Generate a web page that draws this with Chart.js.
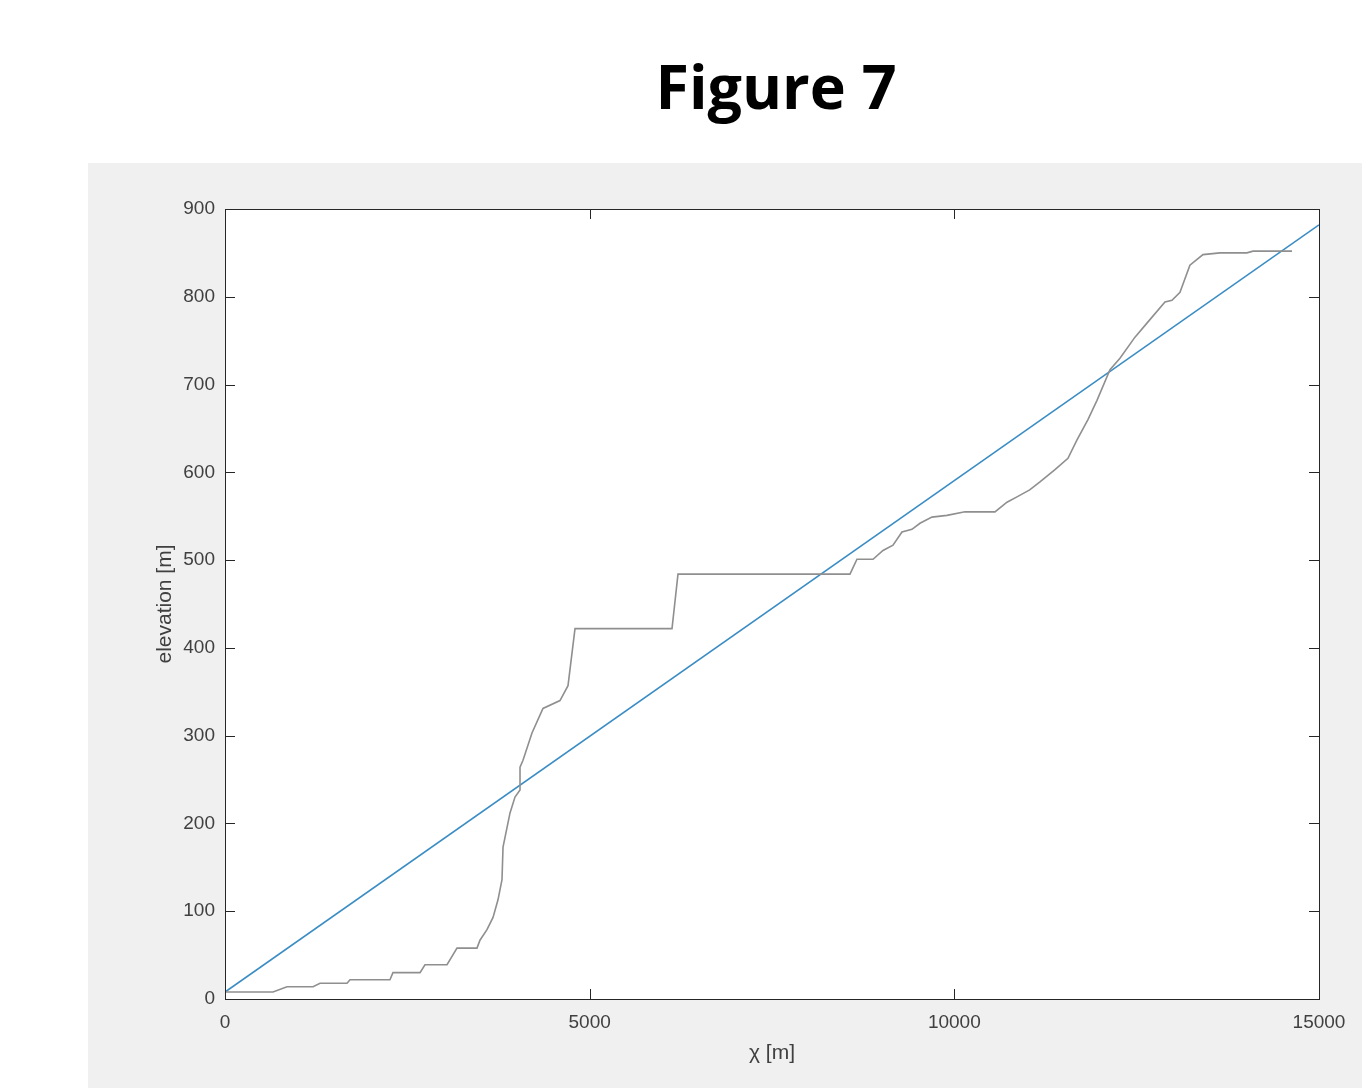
<!DOCTYPE html>
<html>
<head>
<meta charset="utf-8">
<title>Figure 7</title>
<script src="https://cdn.jsdelivr.net/npm/chart.js@4.4.0/dist/chart.umd.min.js"></script>
<style>
    html, body { margin: 0; padding: 0; background: #ffffff; }
    body { width: 1362px; height: 1088px; position: relative; overflow: hidden; }
    #figTitle {
        position: absolute; left: 576px; top: 55px; width: 400px;
        text-align: center; font-family: "Open Sans", sans-serif; font-weight: 700;
        font-size: 61px; line-height: 1; color: #000;
    }
    #panel {
        position: absolute; left: 88px; top: 163px; width: 1274px; height: 925px;
        background: #f0f0f0;
    }
</style>
</head>
<body>
<div id="figTitle">Figure 7</div>
<div id="panel"><canvas id="profileChart"></canvas></div>
<script>
// river profile (chi vs elevation)
const chiValues = [0, 658, 850, 1207, 1303, 1673, 1714, 2262, 2303, 2674, 2742, 3044, 3181, 3455,
    3496, 3592, 3675, 3743, 3798, 3812, 3908, 3976, 4045, 4045, 4086, 4209, 4360, 4593, 4703, 4799,
    6129, 6211, 8569, 8665, 8885, 9022, 9159, 9282, 9419, 9529, 9693, 9899, 10146, 10557, 10722,
    10859, 11033, 11174, 11380, 11558, 11682, 11832, 11956, 12134, 12271, 12477, 12641, 12888,
    12984, 13094, 13230, 13409, 13642, 14012, 14095, 14630];
const elevValues = [8, 8, 14, 14, 18, 18, 22, 22, 30, 30, 39, 39, 58, 58,
    67, 79, 93, 113, 136, 173, 212, 230, 238, 264, 272, 303, 331, 340, 357, 422,
    422, 484, 484, 501, 501, 511, 517, 532, 535, 542, 549, 551, 555, 555, 566,
    572, 580, 589, 603, 616, 637, 660, 682, 717, 730, 754, 770, 794,
    796, 805, 836, 848, 850, 850, 852, 852];

// straight-line fit
const fitChi = [0, 15000];
const fitElev = [8, 882];

const xTicks = [0, 5000, 10000, 15000];
const yTicks = [0, 100, 200, 300, 400, 500, 600, 700, 800, 900];

const toPoints = (xs, ys) => xs.map((x, i) => ({ x: x, y: ys[i] }));

const tickFont = { family: '"Liberation Sans", Arial, sans-serif', size: 19 };
const labelFont = { family: '"Liberation Sans", Arial, sans-serif', size: 21 };

// white plot area, then the matlab style box with inward ticks
const axesBox = {
    id: 'axesBox',
    beforeDatasetsDraw(chart) {
        const { ctx, chartArea: a } = chart;
        ctx.save();
        ctx.fillStyle = '#ffffff';
        ctx.fillRect(a.left, a.top, a.right - a.left, a.bottom - a.top);
        ctx.restore();
    },
    afterDraw(chart) {
        const { ctx, chartArea: a, scales } = chart;
        const len = 10;
        ctx.save();
        ctx.strokeStyle = '#262626';
        ctx.lineWidth = 1;
        ctx.strokeRect(a.left + 0.5, a.top + 0.5, a.right - a.left, a.bottom - a.top);
        ctx.beginPath();
        scales.x.ticks.forEach(t => {
            const px = Math.round(scales.x.getPixelForValue(t.value)) + 0.5;
            ctx.moveTo(px, a.bottom); ctx.lineTo(px, a.bottom - len);
            ctx.moveTo(px, a.top); ctx.lineTo(px, a.top + len);
        });
        scales.y.ticks.forEach(t => {
            const py = Math.round(scales.y.getPixelForValue(t.value)) + 0.5;
            ctx.moveTo(a.left, py); ctx.lineTo(a.left + len, py);
            ctx.moveTo(a.right, py); ctx.lineTo(a.right - len, py);
        });
        ctx.stroke();
        ctx.restore();
    }
};

new Chart(document.getElementById('profileChart').getContext('2d'), {
    type: 'scatter',
    data: {
        datasets: [{
            label: 'profile',
            data: toPoints(chiValues, elevValues),
            showLine: true,
            borderColor: '#8f8f8f',
            borderWidth: 1.6,
            pointRadius: 0,
            tension: 0
        }, {
            label: 'fit',
            data: toPoints(fitChi, fitElev),
            showLine: true,
            borderColor: '#3a8cc4',
            borderWidth: 1.6,
            pointRadius: 0
        }]
    },
    options: {
        responsive: true,
        maintainAspectRatio: false,
        animation: false,
        layout: { padding: { top: 46, right: 43, left: 0, bottom: 0 } },
        plugins: {
            legend: { display: false },
            tooltip: { enabled: false }
        },
        scales: {
            x: {
                type: 'linear',
                min: 0,
                max: 15000,
                afterBuildTicks: scale => { scale.ticks = xTicks.map(v => ({ value: v })); },
                afterFit: scale => { scale.height = 89; },
                grid: { display: false, drawTicks: false },
                border: { display: false },
                ticks: { font: tickFont, color: '#404040', padding: 12, maxRotation: 0, callback: v => String(v) },
                title: { display: true, text: 'χ [m]', font: labelFont, color: '#404040', padding: { top: 0, bottom: 22 } }
            },
            y: {
                type: 'linear',
                min: 0,
                max: 900,
                afterBuildTicks: scale => { scale.ticks = yTicks.map(v => ({ value: v })); },
                afterFit: scale => { scale.width = 137; },
                grid: { display: false, drawTicks: false },
                border: { display: false },
                ticks: { font: tickFont, color: '#404040', padding: 10, callback: v => String(v) },
                title: { display: true, text: 'elevation [m]', font: labelFont, color: '#404040', padding: { top: 65, bottom: 0 } }
            }
        }
    },
    plugins: [axesBox]
});
</script>
</body>
</html>
